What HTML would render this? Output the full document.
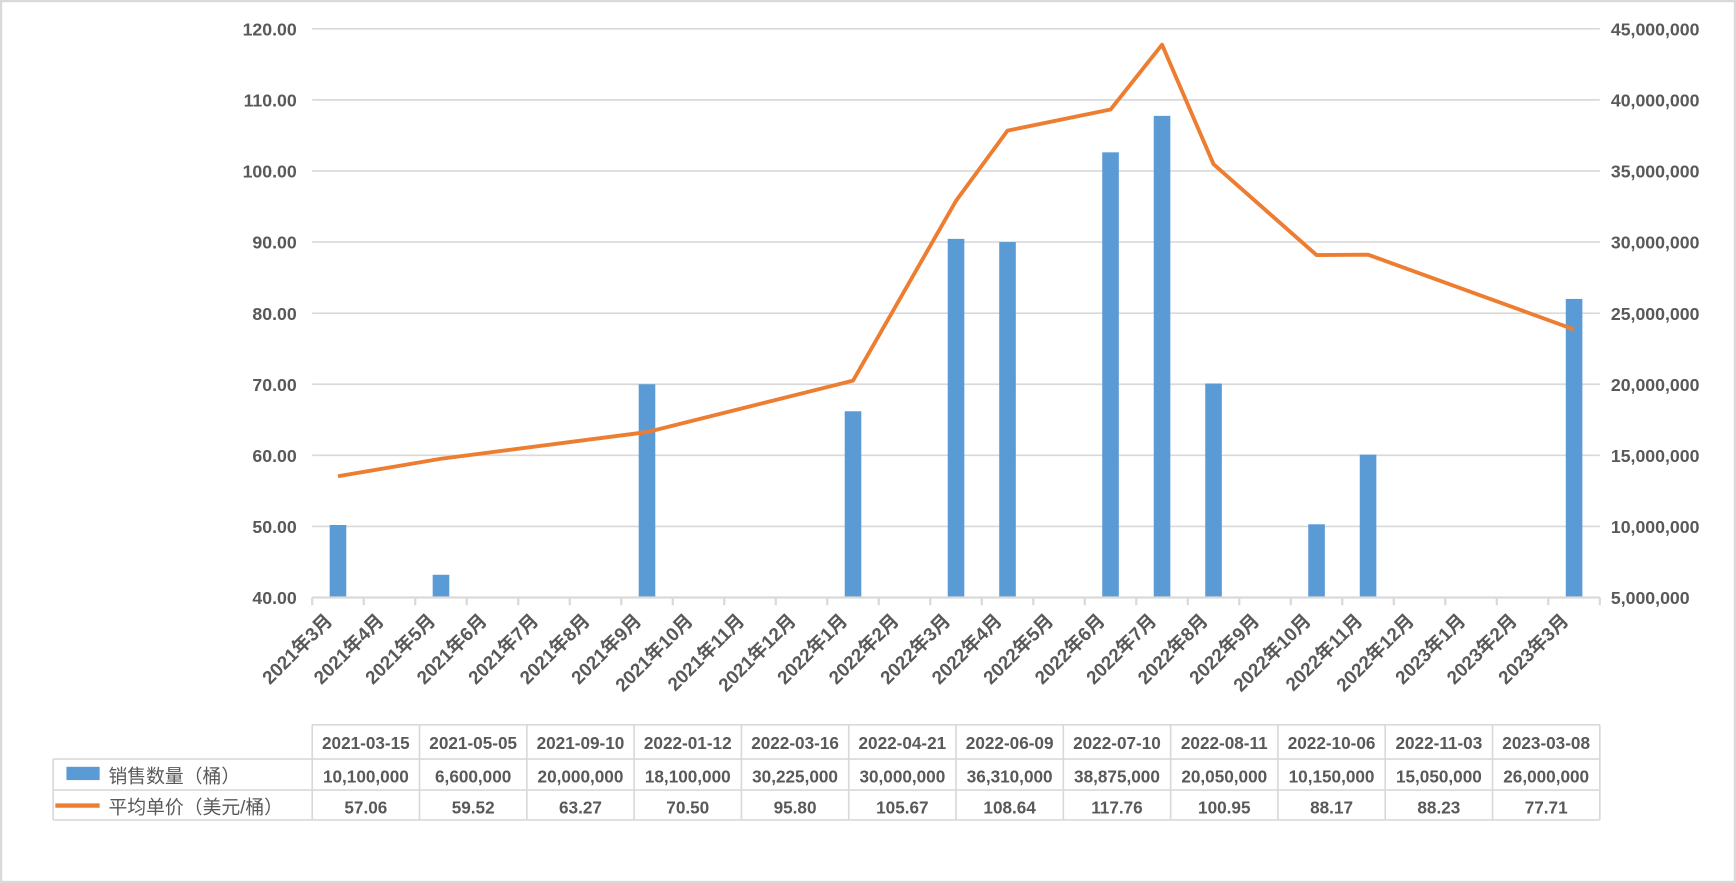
<!DOCTYPE html>
<html><head><meta charset="utf-8"><style>
html,body{margin:0;padding:0;background:#fff;}
svg{display:block;}
text{font-family:"Liberation Sans","Noto Sans CJK SC",sans-serif;fill:#595959;}
</style></head><body>
<svg id="chart" width="1736" height="883" viewBox="0 0 1568 798" preserveAspectRatio="none" xmlns="http://www.w3.org/2000/svg">
<rect x="1" y="1" width="1566" height="796" fill="#fff" stroke="#d9d9d9" stroke-width="2"/>
<g id="grid"></g><g id="bars"></g><g id="line"></g><g id="axes"></g><g id="table"></g>
</svg>
<script>
const categories = ["2021年3月","2021年4月","2021年5月","2021年6月","2021年7月","2021年8月","2021年9月","2021年10月","2021年11月","2021年12月","2022年1月","2022年2月","2022年3月","2022年4月","2022年5月","2022年6月","2022年7月","2022年8月","2022年9月","2022年10月","2022年11月","2022年12月","2023年1月","2023年2月","2023年3月"];
const pointIndex = [0,2,6,10,12,13,15,16,17,19,20,24];
const dates = ["2021-03-15","2021-05-05","2021-09-10","2022-01-12","2022-03-16","2022-04-21","2022-06-09","2022-07-10","2022-08-11","2022-10-06","2022-11-03","2023-03-08"];
const volumes = [10100000,6600000,20000000,18100000,30225000,30000000,36310000,38875000,20050000,10150000,15050000,26000000];
const prices = [57.06,59.52,63.27,70.50,95.80,105.67,108.64,117.76,100.95,88.17,88.23,77.71];
const leftTicks = [40,50,60,70,80,90,100,110,120];
const rightTicks = [5000000,10000000,15000000,20000000,25000000,30000000,35000000,40000000,45000000];

const NS="http://www.w3.org/2000/svg";
const X0=282,X1=1445,Y0=540,Y1=26;
const catW=(X1-X0)/categories.length;
const xC=i=>X0+catW*(i+0.5);
const yL=v=>Y0-(v-40)/(120-40)*(Y0-Y1);
const yR=v=>Y0-(v-5000000)/(45000000-5000000)*(Y0-Y1);
function mk(tag,attrs,parent,txt){const e=document.createElementNS(NS,tag);for(const k in attrs)e.setAttribute(k,attrs[k]);if(txt!==undefined)e.textContent=txt;parent.appendChild(e);return e;}
const G=id=>document.getElementById(id);
const fmt=n=>n.toLocaleString('en-US');

leftTicks.forEach((t,i)=>{
  const y=yL(t);
  if(i>0){const g=mk('line',{x1:X0,x2:X1,y1:y,y2:y,stroke:'#d9d9d9','stroke-width':1.5},G('grid'));
  
  }
  const l=mk('text',{x:268,y:y+6,'text-anchor':'end','font-size':16,'font-weight':'bold'},G('axes'),t.toFixed(2));
  
  
});
rightTicks.forEach(t=>{
  const l=mk('text',{x:1455,y:yR(t)+6,'text-anchor':'start','font-size':16,'font-weight':'bold'},G('axes'),fmt(t));
  
  
});
const ax=mk('line',{x1:X0,x2:X1,y1:Y0,y2:Y0,stroke:'#d9d9d9','stroke-width':2},G('axes'));


for(let i=0;i<=categories.length;i++){
  const x=X0+catW*i;
  const tk=mk('line',{x1:x,x2:x,y1:Y0,y2:Y0+7,stroke:'#d9d9d9','stroke-width':2},G('axes'));
  
  
}
categories.forEach((c,i)=>{
  const x=xC(i)-4,y=Y0+22;
  const l=mk('text',{x:x,y:y,'text-anchor':'end','font-size':17,'font-weight':'bold',transform:`rotate(-45 ${x} ${y})`},G('axes'),c);
  
  
});
const bw=15;
volumes.forEach((v,k)=>{
  const x=xC(pointIndex[k]);const y=yR(v);
  const b=mk('rect',{x:x-bw/2,y:y,width:bw,height:Y0-y,fill:'#5b9bd5'},G('bars'));
  
  
});
const pts=prices.map((p,k)=>xC(pointIndex[k])+','+yL(p)).join(' ');
const pl=mk('polyline',{points:pts,fill:'none',stroke:'#ed7d31','stroke-width':3.5,'stroke-linejoin':'round'},G('line'));



// data table
const T=G('table');const colW=(X1-X0)/dates.length;
const r0=655,r1=686,r2=714,r3=741,LX=48;
const tc='#d9d9d9';
function ln(x1,y1,x2,y2){const e=mk('line',{x1,y1,x2,y2,stroke:tc,'stroke-width':1.5},T);

}
ln(X0,r0,X1,r0);ln(LX,r1,X1,r1);ln(LX,r2,X1,r2);ln(LX,r3,X1,r3);
ln(LX,r1,LX,r3);
for(let i=0;i<=dates.length;i++){ln(X0+colW*i,r0,X0+colW*i,r3);}
dates.forEach((d,i)=>{
  const cx=X0+colW*(i+0.5);
  const h=mk('text',{x:cx,y:r0+22,'text-anchor':'middle','font-size':15.5,'font-weight':'bold'},T,d);
  
  
  const a=mk('text',{x:cx,y:r1+21,'text-anchor':'middle','font-size':15.5,'font-weight':'bold'},T,fmt(volumes[i]));
  
  
  const b=mk('text',{x:cx,y:r2+21,'text-anchor':'middle','font-size':15.5,'font-weight':'bold'},T,prices[i].toFixed(2));
  
  
});
const k1=mk('rect',{x:60,y:693,width:30,height:12,fill:'#5b9bd5'},T);


const t1=mk('text',{x:98,y:707,'font-size':17},T,'销售数量（桶）');


const k2=mk('line',{x1:50,x2:90,y1:728,y2:728,stroke:'#ed7d31','stroke-width':4},T);


const t2=mk('text',{x:98,y:735,'font-size':17},T,'平均单价（美元/桶）');


</script>
</body></html>
